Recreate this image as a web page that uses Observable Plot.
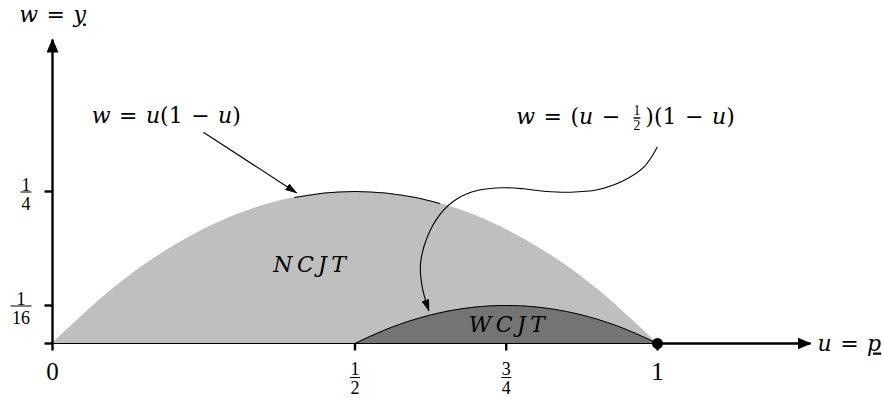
<!DOCTYPE html>
<html>
<head>
<meta charset="utf-8">
<script src="https://cdn.jsdelivr.net/npm/d3@7"></script>
<script src="https://cdn.jsdelivr.net/npm/@observablehq/plot@0.6"></script>
<style>
  html, body { margin: 0; padding: 0; background: #fff; }
  #chart svg { display: block; }
</style>
</head>
<body>
<div id="chart"></div>
<script>
// ---------- data ----------
// outer region  w = u(1-u)
const outerU = [0, 0.1, 0.2, 0.3, 0.4, 0.5, 0.6, 0.7, 0.8, 0.9, 1];
const outerW = [0, 0.09, 0.16, 0.21, 0.24, 0.25, 0.24, 0.21, 0.16, 0.09, 0];
// stroked top part of the outer curve
const outerEdgeU = [0.40, 0.45, 0.50, 0.55, 0.60, 0.64];
const outerEdgeW = [0.24, 0.2475, 0.25, 0.2475, 0.24, 0.2304];
// inner region  w = (u-1/2)(1-u)
const innerU = [0.5, 0.55, 0.6, 0.65, 0.7, 0.75, 0.8, 0.85, 0.9, 0.95, 1];
const innerW = [0, 0.0225, 0.04, 0.0525, 0.06, 0.0625, 0.06, 0.0525, 0.04, 0.0225, 0];

const xTickValues = [0, 0.5, 0.75, 1];
const xTickLabels = ["0", "1/2", "3/4", "1"];
const yTickValues = [0, 0.0625, 0.25];
const yTickLabels = ["", "1/16", "1/4"];

const endPointU = [1];
const endPointW = [0];

const regionNames = ["NCJT", "WCJT"];
const regionU = [0.425, 0.751];
const regionW = [0.130, 0.030];

const curveLabels = ["w = u(1 − u)", "w = (u − {1/2})(1 − u)"];
const curveLabelU = [0.188, 0.947];
const curveLabelW = [0.375, 0.373];

const pointerU = [0.250, 0.403];
const pointerW = [0.347, 0.248];

const waveU = [0.9995, 0.9773, 0.9443, 0.9003, 0.8562, 0.8121, 0.7790, 0.7460, 0.7020, 0.6689, 0.6413, 0.6193, 0.6083, 0.6111, 0.6220];
const waveW = [0.3229, 0.2900, 0.2681, 0.2528, 0.2488, 0.2505, 0.2544, 0.2561, 0.2516, 0.2380, 0.2133, 0.1748, 0.1311, 0.0926, 0.0543];

const xAxisEnd = 1.253;
const yAxisEnd = 0.5;
const axisLabels = ["u = _p", "w = _y"];

// ---------- helpers ----------
const SVGNS = "http://www.w3.org/2000/svg";
const mathFont = "DejaVu Serif";
const digitFont = "Liberation Serif";

function arrowHead(len, half) {
  return (color, context) => {
    const doc = (context && context.document) || document;
    const m = doc.createElementNS(SVGNS, "marker");
    m.setAttribute("viewBox", `${-len} ${-half} ${len + 2} ${2 * half}`);
    m.setAttribute("markerWidth", len + 2);
    m.setAttribute("markerHeight", 2 * half);
    m.setAttribute("markerUnits", "userSpaceOnUse");
    m.setAttribute("orient", "auto");
    m.setAttribute("refX", 0);
    m.setAttribute("refY", 0);
    const p = doc.createElementNS(SVGNS, "path");
    p.setAttribute("d", `M1,0L${-len},${-half}L${-len},${half}Z`);
    p.setAttribute("fill", color);
    p.setAttribute("stroke", "none");
    m.appendChild(p);
    return m;
  };
}
const hbar = { draw(ctx, size) { const h = Math.sqrt(size / Math.PI); ctx.moveTo(-h, 0); ctx.lineTo(h, 0); } };
const vbar = { draw(ctx, size) { const h = Math.sqrt(size / Math.PI); ctx.moveTo(0, -h); ctx.lineTo(0, h); } };

const ink = "black";
const bigArrow = arrowHead(13, 6);
const smallArrow = arrowHead(11, 4);

// tick label marks (integers and stacked fractions)
const tickLabelMarks = [];
const digitText = { fontSize: 18, fontFamily: digitFont, fill: ink };
xTickValues.forEach((v, i) => {
  const lab = xTickLabels[i];
  if (!lab) return;
  if (lab.includes("/")) {
    const [n, d] = lab.split("/");
    tickLabelMarks.push(
      Plot.text([v], { x: (d) => d, y: 0, text: () => `${n}\n${d}`, dy: 35, lineHeight: 1.06, ...digitText }),
      Plot.dot([v], { x: (d) => d, y: 0, symbol: hbar, r: 5, dy: 34, fill: "none", stroke: ink, strokeWidth: 1 })
    );
  } else {
    tickLabelMarks.push(Plot.text([v], { x: (d) => d, y: 0, text: () => lab, dy: 28.5, ...digitText, fontSize: 25 }));
  }
});
yTickValues.forEach((v, i) => {
  const lab = yTickLabels[i];
  if (!lab) return;
  const [n, d] = lab.split("/");
  const half = 0.5 + 5 * Math.max(n.length, d.length);
  const dx = -(21 + half);
  tickLabelMarks.push(
    Plot.text([v], { x: 0, y: (d) => d, text: () => `${n}\n${d}`, dx, dy: 2.5, lineHeight: 1.08, ...digitText }),
    Plot.dot([v], { x: 0, y: (d) => d, symbol: hbar, r: half, dx, dy: 0.5, fill: "none", stroke: ink, strokeWidth: 1 })
  );
});

const mathText = { fontSize: 22, fontFamily: mathFont, fill: ink };

// ---------- chart ----------
const chart = Plot.plot({
  width: 884,
  height: 398,
  margin: 0,
  x: { domain: [0, 1], range: [52, 657], axis: null },
  y: { domain: [0, 0.25], range: [343, 191], axis: null },
  style: { fontFamily: mathFont, fontSize: "22px", background: "white", color: "black" },
  marks: [
    Plot.areaY(outerU, { x: outerU, y: outerW, fill: "#bfbfbf", curve: "natural" }),
    Plot.areaY(innerU, { x: innerU, y: innerW, fill: "#747474", curve: "natural" }),
    Plot.line(innerU, { x: innerU, y: innerW, stroke: ink, strokeWidth: 1, curve: "natural" }),
    Plot.line(outerEdgeU, { x: outerEdgeU, y: outerEdgeW, stroke: ink, strokeWidth: 1.1, curve: "natural" }),
    // baseline under the regions
    Plot.ruleY([0], { x1: xTickValues[0], x2: endPointU[0], stroke: ink, strokeWidth: 1 }),
    // axes with arrow tips
    Plot.link([0], { x1: 0, y1: 0, x2: 0, y2: yAxisEnd, stroke: ink, strokeWidth: 2.4, markerEnd: bigArrow }),
    Plot.link([0], { x1: endPointU[0], y1: 0, x2: xAxisEnd, y2: 0, stroke: ink, strokeWidth: 2.4, markerEnd: bigArrow }),
    // ticks
    Plot.dot(yTickValues, { x: 0, y: (d) => d, symbol: hbar, r: 4, dx: -4, fill: "none", stroke: ink, strokeWidth: 2.4 }),
    Plot.dot(xTickValues, { x: (d) => d, y: 0, symbol: vbar, r: 3.5, dy: 3.5, fill: "none", stroke: ink, strokeWidth: 2.4 }),
    // point at (1, 0)
    Plot.dot(endPointU, { x: endPointU, y: endPointW, r: 5.5, fill: ink, stroke: "none" }),
    ...tickLabelMarks,
    // region names
    Plot.text(regionNames, { x: regionU, y: regionW, text: (d) => d, ...mathText, dx: 2.2 }),
    // curve labels and pointers
    Plot.text(curveLabels, { x: curveLabelU, y: curveLabelW, text: (d) => d, ...mathText }),
    Plot.line(pointerU, { x: pointerU, y: pointerW, stroke: ink, strokeWidth: 1.1, markerEnd: smallArrow }),
    Plot.line(waveU, { x: waveU, y: waveW, stroke: ink, strokeWidth: 1.1, curve: "catmull-rom", markerEnd: smallArrow }),
    // axis names
    Plot.text([axisLabels[0]], { x: xAxisEnd + 0.0115, y: 0, text: (d) => d, textAnchor: "start", ...mathText }),
    Plot.text([axisLabels[1]], { x: 0, y: 0.541, text: (d) => d, ...mathText })
  ]
});

// ---------- math-style typesetting of the texts ----------
function mathify(svg) {
  svg.querySelectorAll("text").forEach((t) => {
    const src = t.textContent;
    if (!/[A-Za-z_{]/.test(src)) return;
    const holder = t.closest("[font-size]");
    const F = holder ? parseFloat(holder.getAttribute("font-size")) : 22;
    if (/^[A-Z]+$/.test(src)) t.setAttribute("letter-spacing", 4.4);
    else t.setAttribute("word-spacing", 1.5);
    const runs = [];
    for (let i = 0; i < src.length; i++) {
      const c = src[i];
      if (c === "{") {
        const j = src.indexOf("}", i);
        runs.push({ frac: src.slice(i + 1, j).split("/") });
        i = j;
        continue;
      }
      if (c === "_") {
        runs.push({ text: src[i + 1], italic: true, underline: true });
        i++;
        continue;
      }
      const italic = /[A-Za-z]/.test(c);
      const last = runs[runs.length - 1];
      if (last && !last.frac && !last.underline && last.italic === italic) last.text += c;
      else runs.push({ text: c, italic });
    }
    t.textContent = "";
    let pending = 0, pendingDx = 0;
    const mk = (txt, attrs) => {
      const s = document.createElementNS(SVGNS, "tspan");
      for (const k in attrs) if (attrs[k] != null) s.setAttribute(k, attrs[k]);
      s.textContent = txt;
      t.appendChild(s);
      return s;
    };
    for (const r of runs) {
      if (r.frac) {
        const s = 0.62 * F;
        mk(r.frac[0], { "font-size": s, "font-style": "normal", "font-family": digitFont, dx: 5, dy: -0.40 * F + pending });
        mk(r.frac[1], { "font-size": s, "font-style": "normal", "font-family": digitFont, dx: -0.5 * s, dy: 0.70 * F, "text-decoration": "overline" });
        pending = -0.30 * F;
        pendingDx = 5;
      } else {
        const el = mk(r.text, { "font-style": r.italic ? "italic" : "normal", dx: pendingDx || null, dy: pending || null, "text-decoration": r.underline ? "underline" : null });
        if (r.underline) el.setAttribute("style", "text-underline-offset: 0.3em");
        pending = 0;
        pendingDx = 0;
      }
    }
  });
}
mathify(chart);
document.getElementById("chart").appendChild(chart);
</script>
</body>
</html>
